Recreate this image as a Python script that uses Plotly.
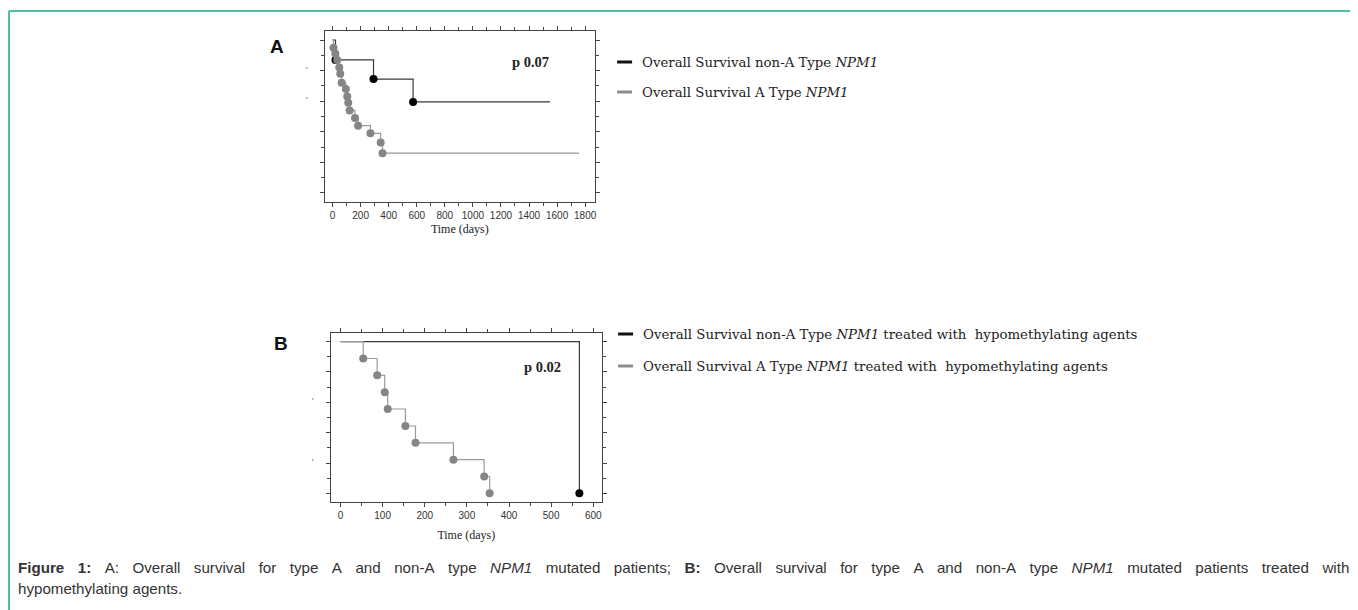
import plotly.graph_objects as go

W, H = 1358, 610
OFF = 8  # page body margin of the browser

# ---------------- data ----------------
# Panel A: overall survival (Kaplan-Meier), events (days) and survival after each event
a_nonA_times = [21, 292, 574]
a_nonA_surv = [0.87, 0.745, 0.595]
a_nonA_end = 1550
a_A_times = [7, 20, 33, 48, 55, 65, 95, 105, 112, 122, 160, 182, 270, 343, 356]
a_A_surv = [0.95, 0.91, 0.87, 0.82, 0.78, 0.72, 0.68, 0.63, 0.59, 0.54, 0.49, 0.44, 0.39, 0.33, 0.26]
a_A_end = 1757
a_xticks = [0, 200, 400, 600, 800, 1000, 1200, 1400, 1600, 1800]

# Panel B: treated with hypomethylating agents
b_nonA_times = [567]
b_nonA_surv = [0.0]
b_nonA_end = 567
b_A_times = [54, 87, 105, 112, 154, 178, 268, 341, 354]
b_A_surv = [0.889, 0.778, 0.667, 0.556, 0.444, 0.333, 0.222, 0.111, 0.0]
b_A_end = 354
b_xticks = [0, 100, 200, 300, 400, 500, 600]

y_ticks = [0, 0.2, 0.4, 0.6, 0.8, 1.0]
a_ytext = ["", "", "", "'", "'", ""]
b_ytext = ["", "'", "", "'", "", ""]

legend_a = ["Overall Survival non-A Type <i>NPM1</i>", "Overall Survival A Type <i>NPM1</i>"]
legend_b = ["Overall Survival non-A Type <i>NPM1</i> treated with&nbsp; hypomethylating agents",
            "Overall Survival A Type <i>NPM1</i> treated with&nbsp; hypomethylating agents"]
p_a = "p 0.07"
p_b = "p 0.02"
caption1_words = ["<b>Figure", "1:</b>", "A:", "Overall", "survival", "for", "type", "A", "and", "non-A",
                  "type", "<i>NPM1</i>", "mutated", "patients;", "<b>B:</b>", "Overall", "survival", "for",
                  "type", "A", "and", "non-A", "type", "<i>NPM1</i>", "mutated", "patients", "treated", "with"]
caption2 = "hypomethylating agents."

BLACK_LINE = "#3a3a3a"
BLACK_DOT = "#000000"
GRAY_LINE = "#9a9a9a"
GRAY_DOT = "#858585"
TEAL = "#4cbfa6"


def px(x):
    return (x - OFF) / W


def py(y):
    return 1 - (y - OFF) / H


def km(times, surv, end):
    xs = [0] + list(times) + [end]
    ys = [1.0] + list(surv) + [surv[-1]]
    return xs, ys


# justified first caption line: widen every word gap evenly
GAP = "&nbsp;&nbsp;\u2004"


def justify(words):
    return GAP.join(words)


fig = go.Figure()


def add_panel(xa, ya, series):
    for times, surv, end, lc, dc in series:
        xs, ys = km(times, surv, end)
        fig.add_trace(go.Scatter(x=xs, y=ys, mode="lines", line=dict(color=lc, width=1.2, shape="hv"),
                                 xaxis=xa, yaxis=ya, showlegend=False, hoverinfo="skip"))
        fig.add_trace(go.Scatter(x=times, y=surv, mode="markers",
                                 marker=dict(color=dc, size=8, line=dict(width=0)),
                                 xaxis=xa, yaxis=ya, showlegend=False))


add_panel("x", "y", [(a_nonA_times, a_nonA_surv, a_nonA_end, BLACK_LINE, BLACK_DOT),
                     (a_A_times, a_A_surv, a_A_end, GRAY_LINE, GRAY_DOT)])
add_panel("x2", "y2", [(b_nonA_times, b_nonA_surv, b_nonA_end, BLACK_LINE, BLACK_DOT),
                       (b_A_times, b_A_surv, b_A_end, GRAY_LINE, GRAY_DOT)])

axis_common = dict(showline=True, linecolor="#444", linewidth=1, mirror="allticks",
                   ticks="outside", ticklen=4, tickcolor="#444", tickwidth=1,
                   showgrid=False, zeroline=False)

tickfont = dict(family="Liberation Sans, Arial, sans-serif", size=10, color="#333")
titlefont = dict(family="Liberation Serif, Times New Roman, serif", size=12, color="#222")

fig.update_layout(
    width=W, height=H,
    margin=dict(l=0, r=0, t=0, b=0),
    paper_bgcolor="white", plot_bgcolor="white",
    showlegend=False,
    xaxis=dict(domain=[px(325), px(596)], range=[-57, 1871], anchor="y",
               tickvals=a_xticks, ticktext=[str(v) for v in a_xticks], tickfont=tickfont,
               minor=dict(ticks="outside", ticklen=3, dtick=100, tick0=0, tickcolor="#444"),
               title=dict(text="Time (days)", font=titlefont, standoff=4), **axis_common),
    yaxis=dict(domain=[py(202), py(31)], range=[-0.059, 1.059], anchor="x",
               tickvals=y_ticks, ticktext=a_ytext, tickfont=dict(size=9, color="#555"),
               ticklabelstandoff=10,
               minor=dict(ticks="outside", ticklen=3, dtick=0.1, tick0=0, tickcolor="#444"),
               **axis_common),
    xaxis2=dict(domain=[px(331), px(603)], range=[-23.7, 621], anchor="y2",
                tickvals=b_xticks, ticktext=[str(v) for v in b_xticks], tickfont=tickfont,
                minor=dict(ticks="outside", ticklen=3, dtick=50, tick0=0, tickcolor="#444"),
                title=dict(text="Time (days)", font=titlefont, standoff=10), **axis_common),
    yaxis2=dict(domain=[py(502), py(333)], range=[-0.057, 1.057], anchor="x2",
                tickvals=y_ticks, ticktext=b_ytext, tickfont=dict(size=9, color="#555"),
                ticklabelstandoff=10,
                minor=dict(ticks="outside", ticklen=3, dtick=0.1, tick0=0, tickcolor="#444"),
                **axis_common),
)

shapes = []
# outer frame (teal) on left and top
shapes.append(dict(type="line", xref="paper", yref="paper", x0=px(9), x1=px(9), y0=0, y1=py(11),
                   line=dict(color=TEAL, width=2)))
shapes.append(dict(type="line", xref="paper", yref="paper", x0=px(9), x1=1, y0=py(11), y1=py(11),
                   line=dict(color=TEAL, width=2)))

ann = []
serif = "DejaVu Serif, serif"
serif2 = "Liberation Serif, Times New Roman, serif"
sans = "Liberation Sans, Arial, sans-serif"


def legend_block(x0, ys, texts):
    for yy, txt, col in zip(ys, texts, ["#111", "#8c8c8c"]):
        shapes.append(dict(type="line", xref="paper", yref="paper", x0=px(x0), x1=px(x0 + 15),
                           y0=py(yy), y1=py(yy), line=dict(color=col, width=3)))
        ann.append(dict(text=txt, xref="paper", yref="paper", x=px(x0 + 23), y=py(yy),
                        xanchor="left", yanchor="middle", showarrow=False,
                        font=dict(family=serif, size=13.3, color="#222")))


legend_block(618, [62, 92], legend_a)
legend_block(619, [334, 366], legend_b)

ann.append(dict(text="<b>" + p_a + "</b>", xref="paper", yref="paper", x=px(531), y=py(62),
                xanchor="center", yanchor="middle", showarrow=False,
                font=dict(family=serif2, size=14.5, color="#222")))
ann.append(dict(text="<b>" + p_b + "</b>", xref="paper", yref="paper", x=px(543), y=py(367),
                xanchor="center", yanchor="middle", showarrow=False,
                font=dict(family=serif2, size=14.5, color="#222")))
ann.append(dict(text="<b>A</b>", xref="paper", yref="paper", x=px(277), y=py(46),
                xanchor="center", yanchor="middle", showarrow=False,
                font=dict(family=sans, size=19, color="#111")))
ann.append(dict(text="<b>B</b>", xref="paper", yref="paper", x=px(281), y=py(343),
                xanchor="center", yanchor="middle", showarrow=False,
                font=dict(family=sans, size=19, color="#111")))
ann.append(dict(text=justify(caption1_words), xref="paper", yref="paper", x=px(16), y=py(567),
                xanchor="left", yanchor="middle", showarrow=False,
                font=dict(family=sans, size=15.15, color="#333")))
ann.append(dict(text=caption2, xref="paper", yref="paper", x=px(16), y=py(588),
                xanchor="left", yanchor="middle", showarrow=False,
                font=dict(family=sans, size=15.15, color="#333")))

fig.update_layout(shapes=shapes, annotations=ann)
fig.write_html("out.html")
